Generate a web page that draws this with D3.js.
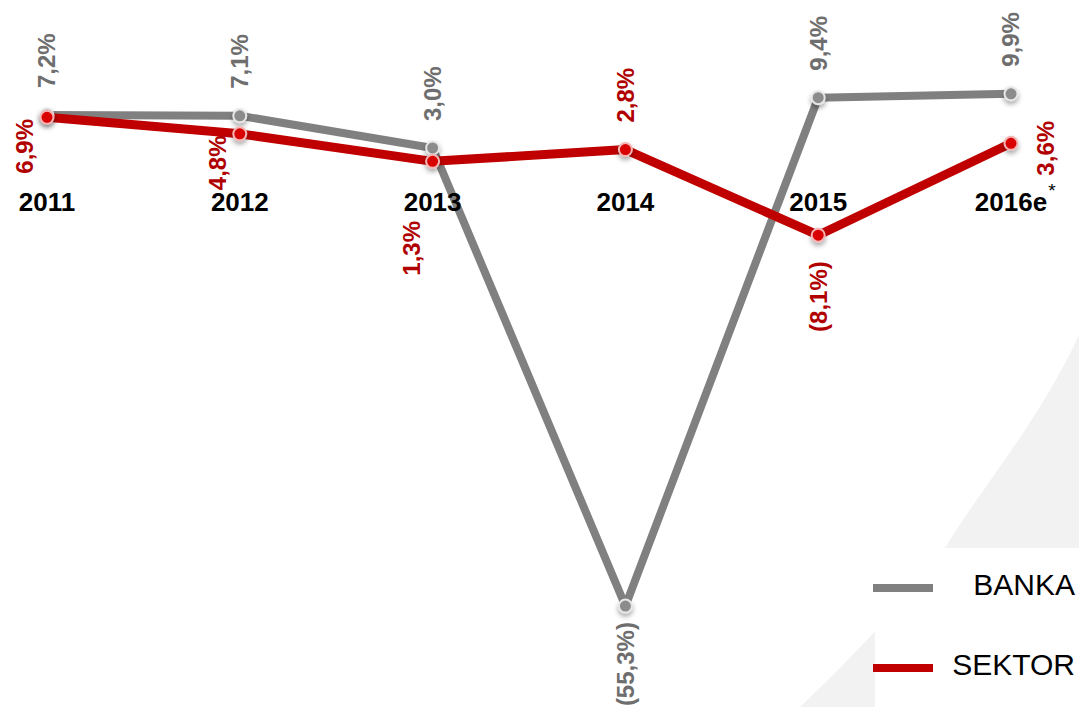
<!DOCTYPE html>
<html>
<head>
<meta charset="utf-8">
<script src="https://cdn.jsdelivr.net/npm/d3@7"></script>
<style>
  html, body { margin: 0; padding: 0; background: #fff; }
  svg { display: block; font-family: "Liberation Sans", Arial, sans-serif; }
</style>
</head>
<body>
<svg id="chart" width="1079" height="707"></svg>
<script>
// ---- data ----
const years = ["2011", "2012", "2013", "2014", "2015", "2016e"];
const bankaValues  = [7.2, 7.1, 3.0, -55.3, 9.4, 9.9];
const sektorValues = [6.9, 4.8, 1.3, 2.8, -8.1, 3.6];
const bankaLabels  = ["7,2%", "7,1%", "3,0%", "(55,3%)", "9,4%", "9,9%"];
const sektorLabels = ["6,9%", "4,8%", "1,3%", "2,8%", "(8,1%)", "3,6%"];
const bankaPlacement  = ["above", "above", "above", "below", "above", "above"];
const sektorPlacement = ["left", "left", "lowerLeft", "above", "belowFar", "right"];
const seriesNames = ["BANKA", "SEKTOR"];

// ---- setup ----
const svg = d3.select("#chart");
const W = 1079, H = 707;

const x = d3.scalePoint().domain(years).range([47, 1011]);
const y = d3.scaleLinear().domain([-60, 10]).range([643, 93]);

// background decoration
const bg = svg.append("g");
bg.append("path")
  .attr("d", "M1079,335 C1040,420 980,490 945,548 C915,590 860,650 800,707 L1079,707 Z")
  .attr("fill", "#f2f2f2");
bg.append("rect").attr("x", 875).attr("y", 548).attr("width", W - 875).attr("height", H - 548)
  .attr("fill", "#fff");

// shadow filter
const defs = svg.append("defs");
const f = defs.append("filter").attr("id", "shadow").attr("x", "-100%").attr("y", "-100%")
  .attr("width", "300%").attr("height", "300%");
f.append("feDropShadow").attr("dx", 0).attr("dy", 3).attr("stdDeviation", 2.5)
  .attr("flood-color", "#000").attr("flood-opacity", 0.35);

// series
const series = [
  { name: seriesNames[0], values: bankaValues, labels: bankaLabels, place: bankaPlacement,
    line: "#808080", width: 8, mFill: "#8c8c8c", mStroke: "#e6e6e6", text: "#6e6e6e" },
  { name: seriesNames[1], values: sektorValues, labels: sektorLabels, place: sektorPlacement,
    line: "#c00000", width: 9, mFill: "#d80000", mStroke: "#f5b5b5", text: "#b00000" }
];

const lineGen = d3.line().x((d, i) => x(years[i])).y(d => y(d));

series.forEach(s => {
  svg.append("path")
    .datum(s.values)
    .attr("d", lineGen)
    .attr("fill", "none")
    .attr("stroke", s.line)
    .attr("stroke-width", s.width)
    .attr("stroke-linejoin", "round");
});

series.forEach(s => {
  svg.append("g").selectAll("circle").data(s.values).join("circle")
    .attr("cx", (d, i) => x(years[i]))
    .attr("cy", d => y(d))
    .attr("r", 6.5)
    .attr("fill", s.mFill)
    .attr("stroke", s.mStroke)
    .attr("stroke-width", 2)
    .attr("filter", "url(#shadow)");
});

// year labels (drawn over the lines)
const yearG = svg.append("g");
yearG.selectAll("text").data(years).join("text")
  .attr("x", d => x(d))
  .attr("y", 211)
  .attr("text-anchor", "middle")
  .attr("font-size", 26)
  .attr("font-weight", "bold")
  .attr("fill", "#000")
  .text(d => d);
const lastYearNode = yearG.selectAll("text").nodes()[years.length - 1];
const lastLen = lastYearNode.getComputedTextLength();
yearG.append("text")
  .attr("x", x(years[years.length - 1]) + lastLen / 2 + 1)
  .attr("y", 197)
  .attr("font-size", 19)
  .attr("fill", "#000")
  .text("*");

// data labels (rotated)
const placements = {
  above:     { dx: 0,   dy: -27, anchor: "start" },
  below:     { dx: 0,   dy: 16,  anchor: "end" },
  belowFar:  { dx: 0,   dy: 26,  anchor: "end" },
  left:      { dx: -22, dy: 29,  anchor: "middle" },
  lowerLeft: { dx: -21, dy: 87,  anchor: "middle" },
  right:     { dx: 35,  dy: 5,   anchor: "middle" }
};

series.forEach(s => {
  svg.append("g").selectAll("text").data(s.values).join("text")
    .attr("transform", (d, i) => {
      const p = placements[s.place[i]];
      return `translate(${x(years[i]) + p.dx},${y(d) + p.dy}) rotate(-90)`;
    })
    .attr("dy", "0.35em")
    .attr("text-anchor", (d, i) => placements[s.place[i]].anchor)
    .attr("font-size", 24)
    .attr("font-weight", "bold")
    .attr("fill", s.text)
    .text((d, i) => s.labels[i]);
});

// legend
const legend = svg.append("g");
const legendY = [588, 668];
series.forEach((s, i) => {
  legend.append("line")
    .attr("x1", 873).attr("x2", 933)
    .attr("y1", legendY[i]).attr("y2", legendY[i])
    .attr("stroke", s.line).attr("stroke-width", 8);
  legend.append("text")
    .attr("x", 1075).attr("y", legendY[i] + 7)
    .attr("text-anchor", "end")
    .attr("font-size", 30)
    .attr("fill", "#000")
    .text(s.name);
});
</script>
</body>
</html>
